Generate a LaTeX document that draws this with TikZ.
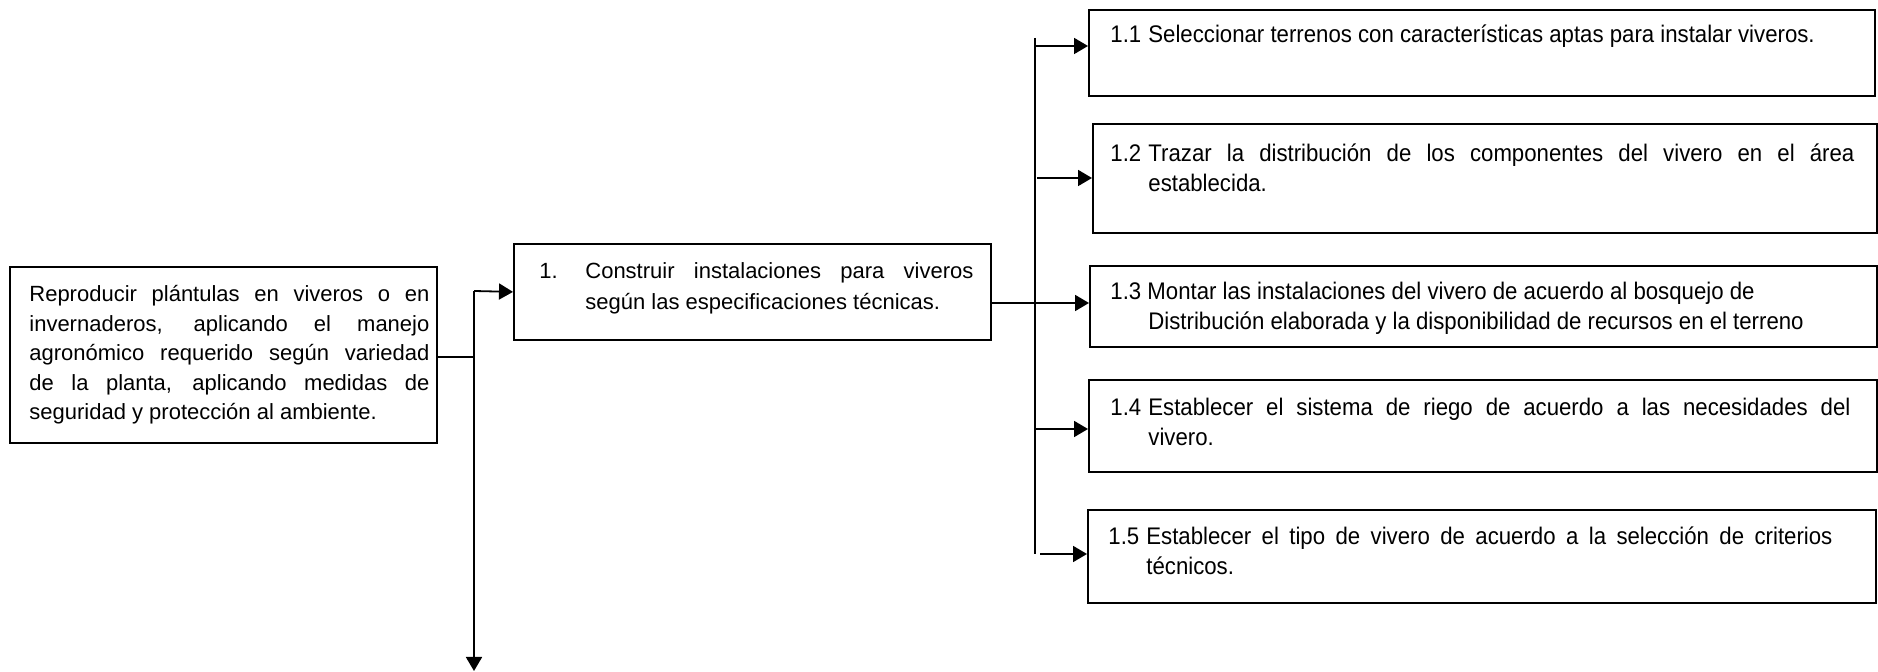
\documentclass[tikz,border=0pt]{standalone}
\usepackage{fontspec}
\setmainfont{Liberation Sans}
\newfontfamily\narrowfont{Liberation Sans}[FakeStretch=0.925]
\usetikzlibrary{arrows.meta}
\begin{document}
\begin{tikzpicture}[x=0.5pt,y=-0.5pt,
  box/.style={draw, line width=0.9pt, inner sep=0pt, anchor=north west},
  txt/.style={inner sep=0pt, anchor=base west},
  conn/.style={line width=0.9pt},
  arr/.style={line width=0.9pt, -{Triangle[length=7pt,width=8pt]}},
  mainfont/.style={font=\fontsize{11pt}{14.7pt}\selectfont},
  onefont/.style={font=\fontsize{11pt}{15.5pt}\selectfont},
  subfont/.style={font=\narrowfont\fontsize{12pt}{15pt}\selectfont}]
\useasboundingbox (0,0) rectangle (1878,672);
% boxes
\node[box, minimum width=213.5pt, minimum height=88pt] (main) at (9,266) {};
\node[box, minimum width=238.5pt, minimum height=48pt] (b1) at (513,243) {};
\node[box, minimum width=393pt, minimum height=43pt] (b11) at (1088,9) {};
\node[box, minimum width=392pt, minimum height=54.5pt] (b12) at (1092,123) {};
\node[box, minimum width=393.5pt, minimum height=40.5pt] (b13) at (1089,265) {};
\node[box, minimum width=394pt, minimum height=46pt] (b14) at (1088,379) {};
\node[box, minimum width=394pt, minimum height=46.5pt] (b15) at (1087,509) {};
% texts
\node[txt, mainfont] (t0) at (29,302) {\parbox[t]{200pt}{Reproducir plántulas en viveros o en\linebreak invernaderos, aplicando el manejo\linebreak agronómico requerido según variedad\linebreak de la planta, aplicando medidas de\linebreak seguridad y protección al ambiente.}};
\node[txt, onefont] (t1) at (539,279) {\parbox[t]{217pt}{\hangindent=23pt\hangafter=1\makebox[23pt][l]{1.}Construir instalaciones para viveros\linebreak según las especificaciones técnicas.}};
\node[txt, subfont] (t11) at (1110,43) {\parbox[t]{372pt}{\raggedright\hangindent=19pt\hangafter=1\makebox[19pt][l]{1.1}Seleccionar terrenos con características aptas para instalar viveros.}};
\node[txt, subfont] (t12) at (1110,162) {\parbox[t]{372pt}{\hangindent=19pt\hangafter=1\makebox[19pt][l]{1.2}Trazar la distribución de los componentes del vivero en el área\linebreak establecida.}};
\node[txt, subfont] (t13) at (1110,300) {\parbox[t]{372pt}{\hangindent=19pt\hangafter=1 1.3 Montar las instalaciones del vivero de acuerdo al bosquejo de\\Distribución elaborada y la disponibilidad de recursos en el terreno}};
\node[txt, subfont] (t14) at (1110,416) {\parbox[t]{370pt}{\hangindent=19pt\hangafter=1\makebox[19pt][l]{1.4}Establecer el sistema de riego de acuerdo a las necesidades del\linebreak vivero.}};
\node[txt, subfont] (t15) at (1108,545) {\parbox[t]{362pt}{\hangindent=19pt\hangafter=1\makebox[19pt][l]{1.5}Establecer el tipo de vivero de acuerdo a la selección de criterios\linebreak técnicos.}};
% left connectors
\coordinate (vtop) at (474,291);
\coordinate (vbot) at (474,671);
\coordinate (hy) at (474,357);
\draw[conn] (hy -| main.east) -- (hy);
\draw[arr] (vtop) -- (vbot);
\draw[arr] (vtop) -- (b1.west);
% right bus
\coordinate (btop) at (1035,38);
\coordinate (bbot) at (1035,554);
\draw[conn] (btop) -- (bbot);
\coordinate (a1) at (1035,46);
\coordinate (a2) at (1037,178);
\coordinate (a3) at (1035,303);
\coordinate (a4) at (1035,429);
\coordinate (a5) at (1040,554);
\draw[arr] (a1) -- (a1 -| b11.west);
\draw[arr] (a2) -- (a2 -| b12.west);
\draw[arr] (a3 -| b1.east) -- (a3 -| b13.west);
\draw[arr] (a4) -- (a4 -| b14.west);
\draw[arr] (a5) -- (a5 -| b15.west);
\end{tikzpicture}
\end{document}
